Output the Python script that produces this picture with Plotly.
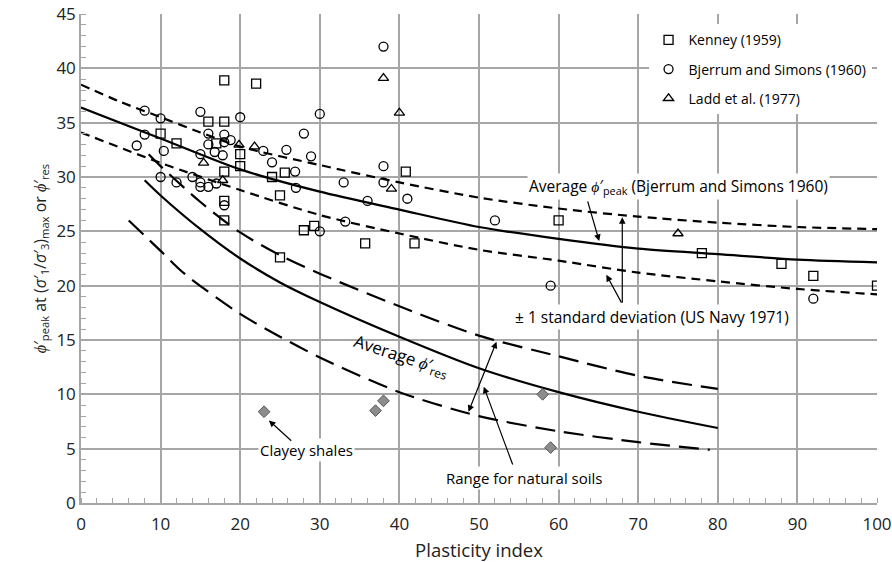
import plotly.graph_objects as go

# ---------------- data ----------------
kenney_pi = [18, 22, 16, 18, 10, 12, 17, 20, 20, 18, 18, 18, 24, 25.6, 25, 25, 28, 29.3, 35.7, 41.9, 40.8, 60, 78, 88, 92, 100]
kenney_phi = [38.9, 38.6, 35.1, 35.1, 34.0, 33.1, 33.1, 32.1, 31.0, 30.5, 27.8, 26.0, 30.0, 30.4, 28.3, 22.6, 25.1, 25.5, 23.9, 23.9, 30.5, 26.0, 23.0, 22.0, 20.9, 20.0]

bjerrum_pi = [8, 10, 15, 20, 8, 7, 10.4, 16, 18, 18.8, 16, 18, 16.8, 17.8, 15, 10, 12, 14, 15, 15, 16, 17, 18,
              22.9, 25.8, 24, 28.9, 26.9, 27, 28, 30, 30, 33, 33.2, 36, 38, 38, 38, 41, 52, 59, 92]
bjerrum_phi = [36.1, 35.4, 36.0, 35.5, 33.9, 32.9, 32.4, 34.0, 33.9, 33.4, 33.0, 33.2, 32.3, 32.0, 32.1, 30.0, 29.5, 30.0, 29.5, 29.1, 29.1, 29.4, 27.4,
               32.4, 32.5, 31.35, 31.9, 30.5, 29.0, 34.0, 35.8, 25.0, 29.5, 25.9, 27.8, 42.0, 31.0, 29.5, 28.0, 26.0, 20.0, 18.8]

ladd_pi = [15.4, 17.8, 19.85, 21.8, 38, 40, 39, 75]
ladd_phi = [31.3, 29.7, 32.95, 32.8, 39.1, 35.9, 28.9, 24.8]

shale_pi = [23, 37, 38, 58, 59]
shale_phi = [8.4, 8.5, 9.4, 10.0, 5.1]

peak_x = [0, 10, 20, 30, 40, 50, 60, 70, 80, 90, 100]
peak_avg = [36.4, 33.55, 30.7, 28.65, 27.0, 25.4, 24.3, 23.4, 22.9, 22.4, 22.15]
peak_up_x = [0, 5, 10, 15, 20, 30, 40, 50, 60, 70, 80, 90, 100]
peak_up = [38.5, 36.9, 35.5, 34.1, 32.8, 31.1, 29.5, 28.1, 27.1, 26.35, 25.8, 25.4, 25.2]
peak_lo = [34.1, 31.3, 28.8, 26.5, 24.8, 23.3, 22.3, 21.2, 20.4, 19.7, 19.2]

res_avg_x = [8, 10, 15, 20, 25, 30, 40, 50, 60, 70, 80]
res_avg = [29.7, 28.3, 25.2, 22.5, 20.3, 18.5, 15.3, 12.4, 10.2, 8.4, 6.9]
res_up_x = [8.5, 10, 15, 20, 25, 30, 40, 50, 60, 70, 80]
res_up = [32.1, 31.0, 27.7, 24.9, 22.8, 21.1, 18.1, 15.4, 13.5, 11.7, 10.5]
res_lo_x = [6, 10, 13, 20, 25, 30, 40, 50, 60, 70, 79]
res_lo = [26.0, 23.2, 21.1, 17.4, 15.3, 13.4, 10.2, 8.0, 6.6, 5.6, 4.9]

x_ticks = [0, 10, 20, 30, 40, 50, 60, 70, 80, 90, 100]
y_ticks = [0, 5, 10, 15, 20, 25, 30, 35, 40, 45]

FONT = "Open Sans"
GRID = "#a6a6a6"

fig = go.Figure()

def curve(x, y, dash):
    fig.add_trace(go.Scatter(x=x, y=y, mode="lines", showlegend=False, hoverinfo="skip",
                             line=dict(color="black", width=2.2, dash=dash, shape="spline", smoothing=0.8)))

curve(peak_x, peak_avg, "solid")
curve(peak_up_x, peak_up, "9px,6px")
curve(peak_x, peak_lo, "9px,6px")
curve(res_avg_x, res_avg, "solid")
curve(res_up_x, res_up, "20px,9px")
curve(res_lo_x, res_lo, "20px,9px")

fig.add_trace(go.Scatter(x=kenney_pi, y=kenney_phi, mode="markers", name="Kenney (1959)", legendgroup="a",
                         marker=dict(symbol="square-open", size=9, color="black", line=dict(width=1.3))))
fig.add_trace(go.Scatter(x=bjerrum_pi, y=bjerrum_phi, mode="markers", name="Bjerrum and Simons (1960)", legendgroup="b",
                         marker=dict(symbol="circle-open", size=9, color="black", line=dict(width=1.3))))
fig.add_trace(go.Scatter(x=ladd_pi, y=ladd_phi, mode="markers", name="Ladd et al. (1977)", legendgroup="c",
                         marker=dict(symbol="triangle-up-open", size=9, color="black", line=dict(width=1.3))))
fig.add_trace(go.Scatter(x=shale_pi, y=shale_phi, mode="markers", showlegend=False,
                         marker=dict(symbol="diamond", size=9, color="#8c8c8c", line=dict(width=1, color="#555555"))))

PHI = "<i>ϕ</i>′"
txt = dict(showarrow=False, xref="x", yref="y")
f15 = dict(family=FONT, size=15.5, color="black")
annotations = [
    dict(x=75.06, y=29.17, text="Average " + PHI + "<sub>peak</sub> (Bjerrum and Simons 1960)", bgcolor="white", font=f15, **txt),
    dict(x=71.7, y=17.1, text="± 1 standard deviation (US Navy 1971)", bgcolor="white", font=f15, **txt),
    dict(x=55.65, y=2.3, text="Range for natural soils", bgcolor="white", font=dict(family=FONT, size=15, color="black"), **txt),
    dict(x=28.3, y=4.88, text="Clayey shales", bgcolor="white", font=dict(family=FONT, size=15, color="black"), **txt),
    dict(x=40.3, y=13.5, text="Average " + PHI + "<sub>res</sub>", textangle=18,
         font=dict(family=FONT, size=17, color="black"), **txt),
]

def arrow(x0, y0, x1, y1, side="end"):
    return dict(x=x1, y=y1, ax=x0, ay=y0, xref="x", yref="y", axref="x", ayref="y", text="",
                showarrow=True, arrowhead=2, arrowsize=1.1, arrowwidth=1.2, arrowcolor="black",
                arrowside=side, standoff=0, startstandoff=0)

annotations += [
    arrow(63.6, 27.9, 65.1, 24.1),
    arrow(68.0, 18.3, 68.0, 26.3),
    arrow(68.0, 18.3, 66.0, 21.0),
    arrow(48.6, 8.25, 52.2, 14.84, side="end+start"),
    arrow(54.3, 3.4, 50.6, 10.7),
    arrow(26.6, 5.6, 23.6, 7.6),
]

fig.update_layout(
    width=892, height=562,
    margin=dict(l=81, r=15, t=14, b=59),
    paper_bgcolor="white", plot_bgcolor="white",
    font=dict(family=FONT, size=16, color="#222222"),
    annotations=annotations,
    legend=dict(x=0.713, y=0.979, xanchor="left", yanchor="top", bgcolor="white",
                font=dict(family=FONT, size=14, color="black"), traceorder="grouped",
                tracegroupgap=8, itemwidth=30),
    xaxis=dict(range=[0, 100], tickvals=x_ticks, showgrid=True, gridcolor=GRID, gridwidth=1.5,
               showline=True, linecolor=GRID, linewidth=1.5, ticks="outside", ticklen=5, tickcolor="white",
               zeroline=False, automargin=False,
               minor=dict(dtick=2, ticks="inside", ticklen=5, tickcolor=GRID, tickwidth=1, showgrid=False),
               title=dict(text="Plasticity index", font=dict(size=18.5, family=FONT, color="#222222"), standoff=17),
               tickfont=dict(size=17, family=FONT, color="#222222")),
    yaxis=dict(range=[0, 45], tickvals=y_ticks, showgrid=True, gridcolor=GRID, gridwidth=1.5,
               showline=True, linecolor=GRID, linewidth=1.5, ticks="", zeroline=False, automargin=False,
               minor=dict(dtick=1, ticks="inside", ticklen=5, tickcolor=GRID, tickwidth=1, showgrid=False),
               title=dict(text=PHI + "<sub>peak</sub> at (<i>σ</i>′<sub>1</sub>/<i>σ</i>′<sub>3</sub>)<sub>max</sub> or " + PHI + "<sub>res</sub>",
                          font=dict(size=16, family=FONT, color="#222222"), standoff=6),
               tickfont=dict(size=17, family=FONT, color="#222222")),
)

fig.write_html("out.html")
